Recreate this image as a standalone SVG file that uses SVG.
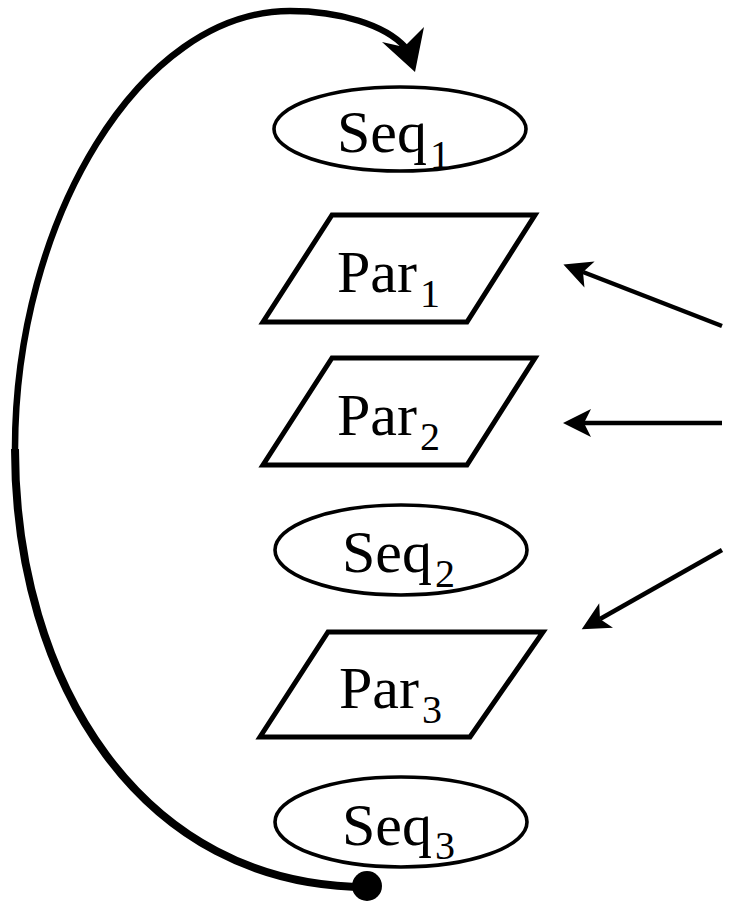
<svg xmlns="http://www.w3.org/2000/svg" width="731" height="906" viewBox="0 0 731 906">
  <style>
    .seq { fill: #fff; stroke: #000; stroke-width: 3.6; }
    .par { fill: #fff; stroke: #000; stroke-width: 5; stroke-linejoin: miter; }
    .lbl { font-family: "Liberation Serif", "Times New Roman", serif; font-size: 60px; fill: #000; }
    .sub { font-size: 40px; }
    .feed { fill: none; stroke: #000; stroke-width: 4.5; }
    .loop { fill: none; stroke: #000; stroke-linecap: butt; }
  </style>
  <defs>
    <marker id="head" markerUnits="userSpaceOnUse" viewBox="-8 -14 30 28" refX="0" refY="0" markerWidth="30" markerHeight="28" orient="auto" overflow="visible">
      <path d="M21,0 L-7,-14 L0,0 L-7,14 Z" fill="#000"/>
    </marker>
  </defs>

  <g id="connectors">
    <!-- loop from the last sequential step back to the first -->
    <path class="loop" stroke-width="8" d="M367,887 C140,887 15,680 15,449"/>
    <path class="loop" stroke-width="6.5" d="M15,449 C15,220 140,11 290,11 C340,11 385,25 405,47"/>
    <polygon points="415,72 382,42 404,47 424,27" fill="#000"/>
    <circle cx="367" cy="886" r="15" fill="#000"/>
    <!-- incoming arrows on the right -->
    <line class="feed" x1="722" y1="326" x2="583" y2="272" marker-end="url(#head)"/>
    <line class="feed" x1="722" y1="423" x2="584" y2="423" marker-end="url(#head)"/>
    <line class="feed" x1="722" y1="550" x2="600" y2="619" marker-end="url(#head)"/>
  </g>

  <g id="seq1">
    <ellipse class="seq" cx="400" cy="129" rx="126" ry="42"/>
    <text class="lbl" x="337" y="152">Seq<tspan class="sub" dx="3" dy="16">1</tspan></text>
  </g>

  <g id="par1">
    <polygon class="par" points="332,215 535,215 467,322 263,322"/>
    <text class="lbl" x="337" y="292">Par<tspan class="sub" dx="3" dy="15">1</tspan></text>
  </g>

  <g id="par2">
    <polygon class="par" points="332,358 535,358 467,465 263,465"/>
    <text class="lbl" x="337" y="435">Par<tspan class="sub" dx="3" dy="15">2</tspan></text>
  </g>

  <g id="seq2">
    <ellipse class="seq" cx="401" cy="550" rx="126" ry="45"/>
    <text class="lbl" x="342" y="572">Seq<tspan class="sub" dx="3" dy="15">2</tspan></text>
  </g>

  <g id="par3">
    <polygon class="par" points="328,632 543,632 470,737 260,737"/>
    <text class="lbl" x="339" y="708">Par<tspan class="sub" dx="3" dy="15">3</tspan></text>
  </g>

  <g id="seq3">
    <ellipse class="seq" cx="401" cy="822" rx="126" ry="45"/>
    <text class="lbl" x="342" y="845">Seq<tspan class="sub" dx="3" dy="14">3</tspan></text>
  </g>
</svg>
